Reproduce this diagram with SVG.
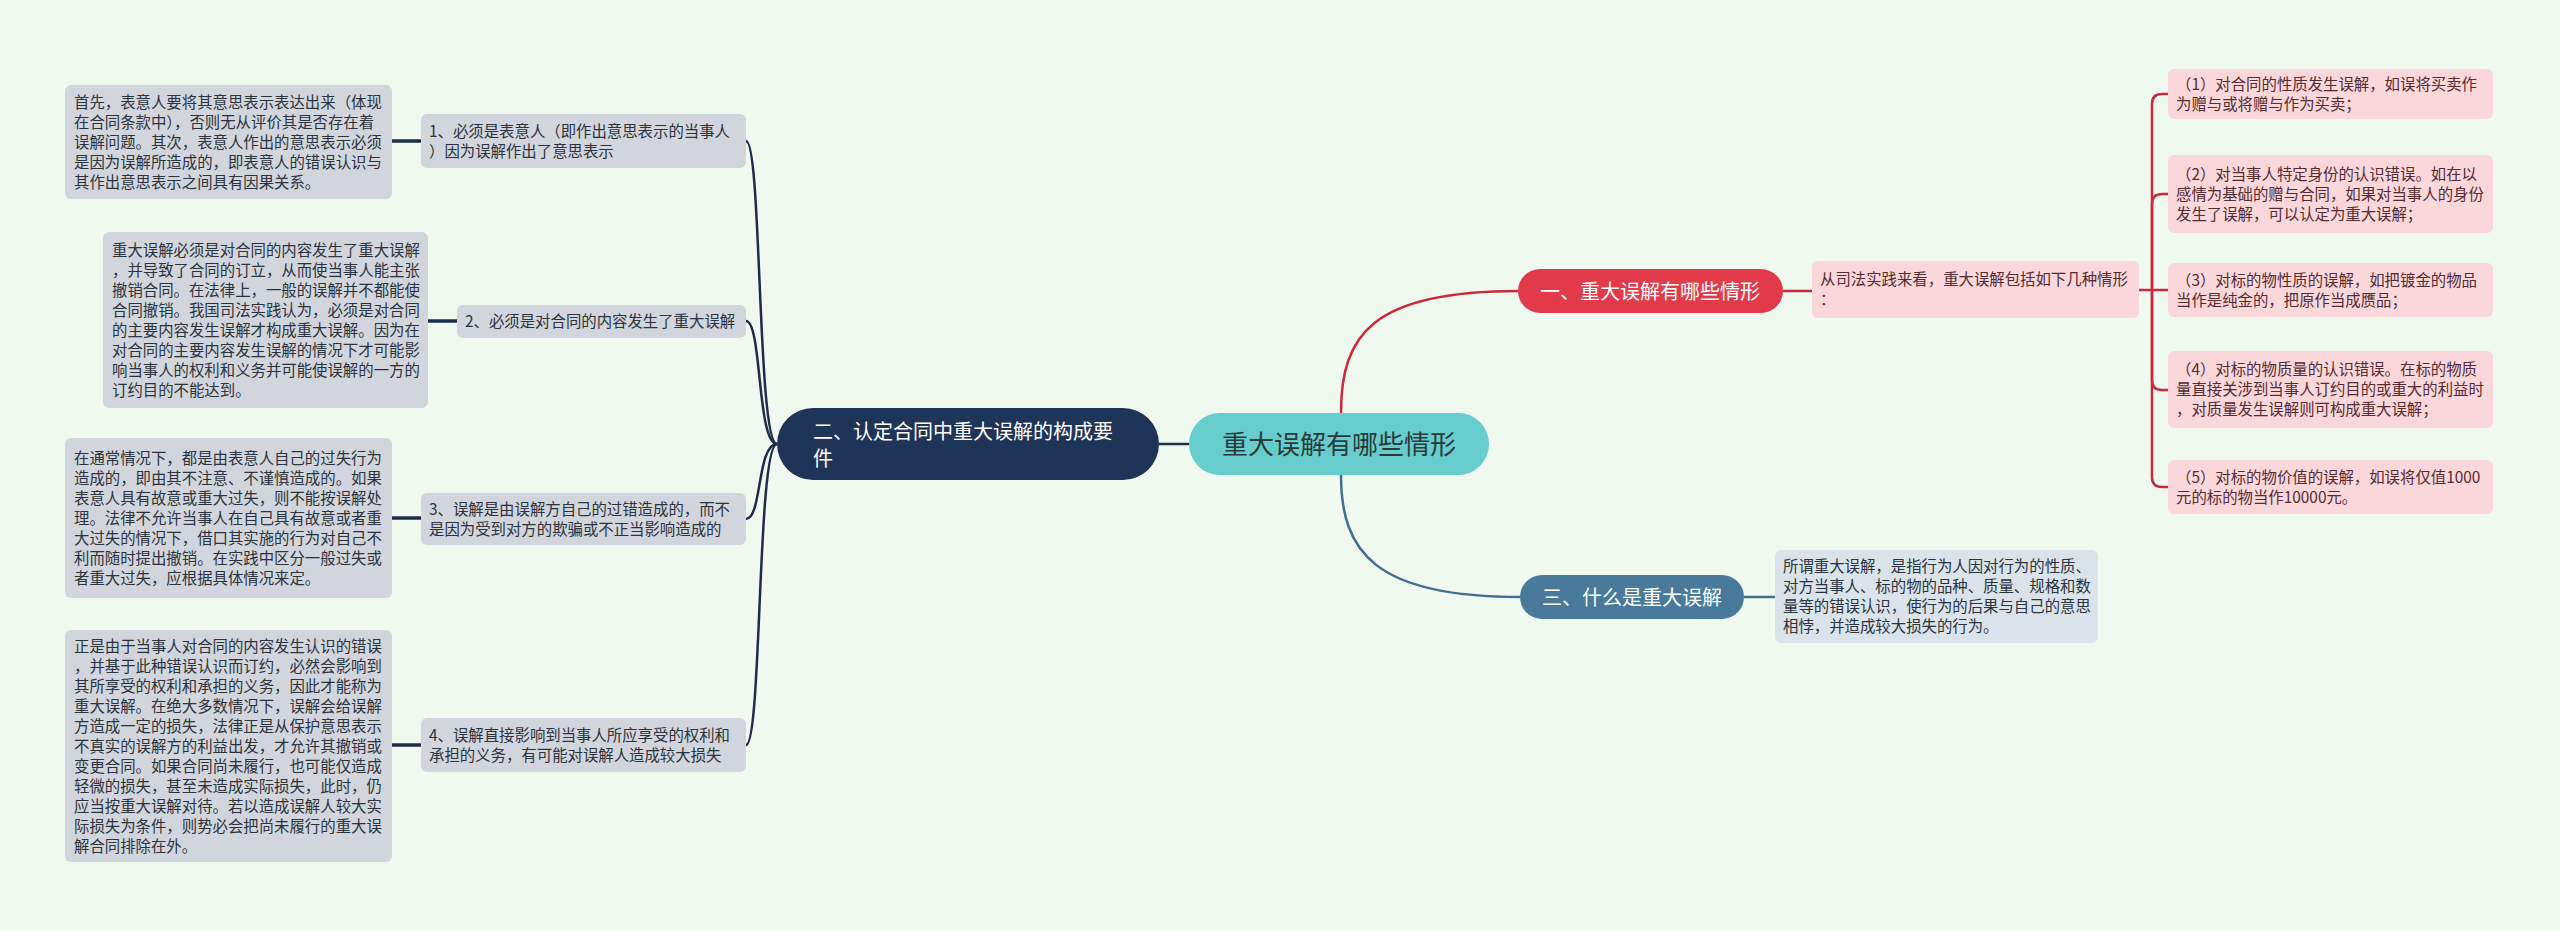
<svg xmlns="http://www.w3.org/2000/svg" width="2560" height="931" viewBox="0 0 2560 931">
<defs>
<style>
.bg{fill:#f0f9ef}
.t{font-family:"Noto Sans CJK SC","Microsoft YaHei",sans-serif;font-size:15.4px}
.gbox{fill:#d2d6dc}
.gtxt{fill:#2c333c}
.pbox{fill:#f9d7db}
.ptxt{fill:#552c32}
.bbox{fill:#dbe3ea}
.btxt{fill:#2a343e}
.cnav{fill:none;stroke:#1c2c4a;stroke-width:2.5}
.cnavt{fill:none;stroke:#1c2c4a;stroke-width:3.5}
.cred{fill:none;stroke:#c9293b;stroke-width:2.5}
.cblu{fill:none;stroke:#3f6f90;stroke-width:2.5}
.nt{font-family:"Noto Sans CJK SC","Microsoft YaHei",sans-serif;font-size:20px;fill:#ffffff}
</style>
</defs>
<rect class="bg" x="0" y="0" width="2560" height="931"/>

<g id="connectors">
<path class="cnav" d="M1159 444 H1189"/>
<path class="cred" d="M1341 413 C1341 335 1372 291 1518 291"/>
<path class="cblu" d="M1341 475 C1341 552 1375 597 1520 597"/>
<path class="cnav" d="M777 444 C757 444 762 141 746 141"/>
<path class="cnav" d="M777 444 C757 444 762 321 746 321"/>
<path class="cnav" d="M777 444 C757 444 762 519 746 519"/>
<path class="cnav" d="M777 444 C757 444 762 745 746 745"/>
<path class="cnavt" d="M392 141 H421"/>
<path class="cnavt" d="M428 321 H457"/>
<path class="cnavt" d="M392 518 H421"/>
<path class="cnavt" d="M392 745 H421"/>
<path class="cred" d="M1783 291 H1812"/>
<path class="cred" d="M2139 290 H2152 V104 Q2152 94 2162 94 H2168"/>
<path class="cred" d="M2152 290 V204 Q2152 194 2162 194 H2168"/>
<path class="cred" d="M2152 290 H2168"/>
<path class="cred" d="M2152 290 V380 Q2152 390 2162 390 H2168"/>
<path class="cred" d="M2152 290 V477 Q2152 487 2162 487 H2168"/>
<path class="cblu" d="M1744 597 H1775"/>
</g>

<g id="center">
<rect x="1189" y="413" width="300" height="62" rx="31" fill="#66cdcc"/>
<text x="1339" y="454" text-anchor="middle" font-family="Noto Sans CJK SC, Microsoft YaHei, sans-serif" font-size="26" fill="#2a3a3c">重大误解有哪些情形</text>
</g>

<g id="n2">
<rect x="777" y="408" width="382" height="72" rx="36" fill="#1f3558"/>
<text class="nt" x="813" y="438.5">二、认定合同中重大误解的构成要<tspan x="813" dy="27">件</tspan></text>
</g>

<g id="n1">
<rect x="1518" y="269" width="265" height="44" rx="22" fill="#e23a4a"/>
<text class="nt" x="1650" y="298.5" text-anchor="middle">一、重大误解有哪些情形</text>
</g>

<g id="n3">
<rect x="1520" y="575" width="224" height="44" rx="22" fill="#497a9c"/>
<text class="nt" x="1632" y="604.5" text-anchor="middle">三、什么是重大误解</text>
</g>

<g id="b1">
<rect class="gbox" x="421" y="114" width="325" height="54" rx="6"/>
<text class="t gtxt" x="429" y="137">1、必须是表意人（即作出意思表示的当事人<tspan x="429" dy="20">）因为误解作出了意思表示</tspan></text>
</g>
<g id="a1">
<rect class="gbox" x="65" y="85" width="327" height="114" rx="6"/>
<text class="t gtxt" x="74" y="108">首先，表意人要将其意思表示表达出来（体现<tspan x="74" dy="20">在合同条款中），否则无从评价其是否存在着</tspan><tspan x="74" dy="20">误解问题。其次，表意人作出的意思表示必须</tspan><tspan x="74" dy="20">是因为误解所造成的，即表意人的错误认识与</tspan><tspan x="74" dy="20">其作出意思表示之间具有因果关系。</tspan></text>
</g>

<g id="b2">
<rect class="gbox" x="457" y="305" width="289" height="33" rx="6"/>
<text class="t gtxt" x="465" y="327">2、必须是对合同的内容发生了重大误解</text>
</g>
<g id="a2">
<rect class="gbox" x="103" y="232" width="325" height="176" rx="6"/>
<text class="t gtxt" x="112" y="256">重大误解必须是对合同的内容发生了重大误解<tspan x="112" dy="20">，并导致了合同的订立，从而使当事人能主张</tspan><tspan x="112" dy="20">撤销合同。在法律上，一般的误解并不都能使</tspan><tspan x="112" dy="20">合同撤销。我国司法实践认为，必须是对合同</tspan><tspan x="112" dy="20">的主要内容发生误解才构成重大误解。因为在</tspan><tspan x="112" dy="20">对合同的主要内容发生误解的情况下才可能影</tspan><tspan x="112" dy="20">响当事人的权利和义务并可能使误解的一方的</tspan><tspan x="112" dy="20">订约目的不能达到。</tspan></text>
</g>

<g id="b3">
<rect class="gbox" x="421" y="493" width="325" height="52" rx="6"/>
<text class="t gtxt" x="429" y="515">3、误解是由误解方自己的过错造成的，而不<tspan x="429" dy="20">是因为受到对方的欺骗或不正当影响造成的</tspan></text>
</g>
<g id="a3">
<rect class="gbox" x="65" y="438" width="327" height="160" rx="6"/>
<text class="t gtxt" x="74" y="464">在通常情况下，都是由表意人自己的过失行为<tspan x="74" dy="20">造成的，即由其不注意、不谨慎造成的。如果</tspan><tspan x="74" dy="20">表意人具有故意或重大过失，则不能按误解处</tspan><tspan x="74" dy="20">理。法律不允许当事人在自己具有故意或者重</tspan><tspan x="74" dy="20">大过失的情况下，借口其实施的行为对自己不</tspan><tspan x="74" dy="20">利而随时提出撤销。在实践中区分一般过失或</tspan><tspan x="74" dy="20">者重大过失，应根据具体情况来定。</tspan></text>
</g>

<g id="b4">
<rect class="gbox" x="421" y="718" width="325" height="54" rx="6"/>
<text class="t gtxt" x="429" y="741">4、误解直接影响到当事人所应享受的权利和<tspan x="429" dy="20">承担的义务，有可能对误解人造成较大损失</tspan></text>
</g>
<g id="a4">
<rect class="gbox" x="65" y="630" width="327" height="232" rx="6"/>
<text class="t gtxt" x="74" y="652">正是由于当事人对合同的内容发生认识的错误<tspan x="74" dy="20">，并基于此种错误认识而订约，必然会影响到</tspan><tspan x="74" dy="20">其所享受的权利和承担的义务，因此才能称为</tspan><tspan x="74" dy="20">重大误解。在绝大多数情况下，误解会给误解</tspan><tspan x="74" dy="20">方造成一定的损失，法律正是从保护意思表示</tspan><tspan x="74" dy="20">不真实的误解方的利益出发，才允许其撤销或</tspan><tspan x="74" dy="20">变更合同。如果合同尚未履行，也可能仅造成</tspan><tspan x="74" dy="20">轻微的损失，甚至未造成实际损失，此时，仍</tspan><tspan x="74" dy="20">应当按重大误解对待。若以造成误解人较大实</tspan><tspan x="74" dy="20">际损失为条件，则势必会把尚未履行的重大误</tspan><tspan x="74" dy="20">解合同排除在外。</tspan></text>
</g>

<g id="s1">
<rect class="pbox" x="1812" y="261" width="327" height="57" rx="6"/>
<text class="t ptxt" x="1820" y="285">从司法实践来看，重大误解包括如下几种情形<tspan x="1820" dy="20">：</tspan></text>
</g>
<g id="r1">
<rect class="pbox" x="2168" y="69" width="325" height="50" rx="6"/>
<text class="t ptxt" x="2176" y="90">（1）对合同的性质发生误解，如误将买卖作<tspan x="2176" dy="20">为赠与或将赠与作为买卖；</tspan></text>
</g>
<g id="r2">
<rect class="pbox" x="2168" y="155" width="325" height="78" rx="6"/>
<text class="t ptxt" x="2176" y="180">（2）对当事人特定身份的认识错误。如在以<tspan x="2176" dy="20">感情为基础的赠与合同，如果对当事人的身份</tspan><tspan x="2176" dy="20">发生了误解，可以认定为重大误解；</tspan></text>
</g>
<g id="r3">
<rect class="pbox" x="2168" y="263" width="325" height="54" rx="6"/>
<text class="t ptxt" x="2176" y="286">（3）对标的物性质的误解，如把镀金的物品<tspan x="2176" dy="20">当作是纯金的，把原作当成赝品；</tspan></text>
</g>
<g id="r4">
<rect class="pbox" x="2168" y="351" width="325" height="77" rx="6"/>
<text class="t ptxt" x="2176" y="375">（4）对标的物质量的认识错误。在标的物质<tspan x="2176" dy="20">量直接关涉到当事人订约目的或重大的利益时</tspan><tspan x="2176" dy="20">，对质量发生误解则可构成重大误解；</tspan></text>
</g>
<g id="r5">
<rect class="pbox" x="2168" y="460" width="325" height="54" rx="6"/>
<text class="t ptxt" x="2176" y="483">（5）对标的物价值的误解，如误将仅值1000<tspan x="2176" dy="20">元的标的物当作10000元。</tspan></text>
</g>

<g id="w1">
<rect class="bbox" x="1775" y="550" width="323" height="93" rx="6"/>
<text class="t btxt" x="1783" y="572">所谓重大误解，是指行为人因对行为的性质、<tspan x="1783" dy="20">对方当事人、标的物的品种、质量、规格和数</tspan><tspan x="1783" dy="20">量等的错误认识，使行为的后果与自己的意思</tspan><tspan x="1783" dy="20">相悖，并造成较大损失的行为。</tspan></text>
</g>
</svg>
